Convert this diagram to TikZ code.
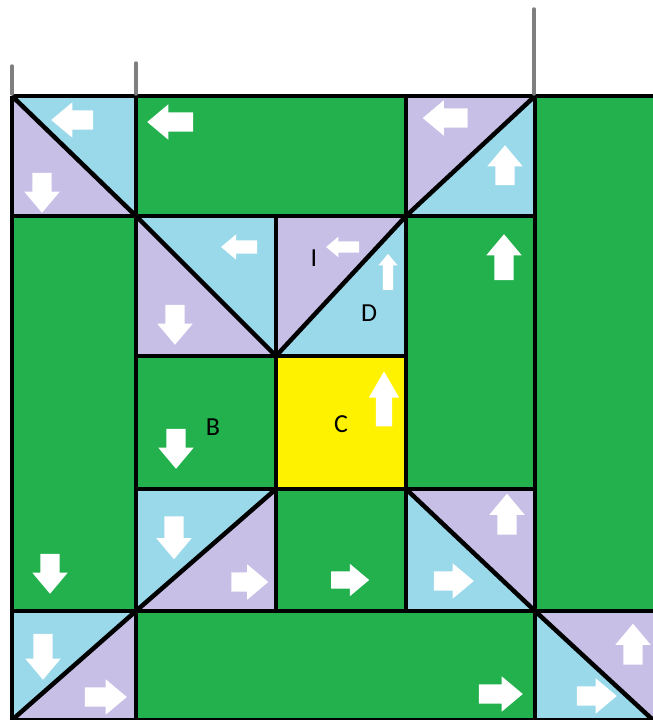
\documentclass[tikz,border=0pt]{standalone}
\usepackage{fontspec}
\setmainfont{Carlito}
\usetikzlibrary{shapes.arrows}
\definecolor{pgreen}{HTML}{22B14C}
\definecolor{pblue}{HTML}{99D9EA}
\definecolor{ppurple}{HTML}{C8BFE7}
\definecolor{pyellow}{HTML}{FFF200}
\definecolor{ptick}{HTML}{7F7F7F}
\begin{document}
\begin{tikzpicture}[x=1pt, y=-1pt,
    gridline/.style={line width=4.5pt, black},
    tickline/.style={line width=3.5pt, ptick, line cap=round},
    wa/.style={single arrow, fill=white, draw=none,
      single arrow head extend=8pt,
      single arrow tip angle=80, single arrow head indent=0pt, minimum height=#1},
    arrL/.style={wa=#1, inner xsep=0pt, inner ysep=9.5pt, shape border rotate=180},
    arrR/.style={wa=#1, inner xsep=0pt, inner ysep=9.5pt, shape border rotate=0},
    arrU/.style={wa=#1, inner ysep=0pt, inner xsep=9.5pt, shape border rotate=90},
    arrD/.style={wa=#1, inner ysep=0pt, inner xsep=9.5pt, shape border rotate=270},
    lbl/.style={font=\fontsize{26}{30}\selectfont, inner sep=0pt}]
  \useasboundingbox (0,0) rectangle (653,720);

  % Green ground and the yellow cell
  \fill[pgreen] (12,96) rectangle (653,720);
  \fill[pyellow] (276,356) rectangle (406,489);

  % Split cells, diagonal from top left to bottom right
  \foreach \xa/\ya/\xb/\yb/\ca/\cb in {12/96/136/216/pblue/ppurple,
      136/216/276/356/pblue/ppurple, 406/489/535/611/ppurple/pblue,
      535/611/653/720/ppurple/pblue}{
    \fill[\ca] (\xa,\ya) -- (\xb,\ya) -- (\xb,\yb) -- cycle;
    \fill[\cb] (\xa,\ya) -- (\xa,\yb) -- (\xb,\yb) -- cycle;
    \draw[gridline] (\xa,\ya) -- (\xb,\yb);
  }
  % Split cells, diagonal from bottom left to top right
  \foreach \xa/\ya/\xb/\yb/\ca/\cb in {406/96/535/216/ppurple/pblue,
      276/216/406/356/ppurple/pblue, 136/489/276/611/pblue/ppurple,
      12/611/136/720/pblue/ppurple}{
    \fill[\ca] (\xa,\ya) -- (\xb,\ya) -- (\xa,\yb) -- cycle;
    \fill[\cb] (\xb,\ya) -- (\xb,\yb) -- (\xa,\yb) -- cycle;
    \draw[gridline] (\xa,\yb) -- (\xb,\ya);
  }

  % Grid lines
  \draw[gridline] (12,96) -- (653,96);
  \draw[gridline] (12,216) -- (535,216);
  \draw[gridline] (136,356) -- (406,356);
  \draw[gridline] (136,489) -- (535,489);
  \draw[gridline] (12,611) -- (653,611);
  \draw[gridline] (12,720) -- (653,720);
  \draw[gridline] (12,96) -- (12,720);
  \draw[gridline] (136,96) -- (136,720);
  \draw[gridline] (276,216) -- (276,611);
  \draw[gridline] (406,96) -- (406,611);
  \draw[gridline] (535,96) -- (535,720);

  % Gray ticks on top
  \draw[tickline] (12,66) -- (12,94);
  \draw[tickline] (136,63) -- (136,94);
  \draw[tickline] (534,9) -- (534,94);

  % Arrows, top row
  \node[arrL=42pt] (a1) at (78,120) {};
  \node[arrD=40pt] (a2) at (42,187) {};
  \node[arrL=46pt] (a3) at (176,122) {};
  \node[arrL=45pt] (a4) at (451,118) {};
  \node[arrU=40pt] (a5) at (505,171) {};
  % second row
  \node[arrL=36pt, inner ysep=6.5pt, single arrow head extend=6pt] (b1) at (243,247) {};
  \node[arrD=40pt] (b2) at (175,319) {};
  \node[arrL=33pt, inner ysep=5.5pt, single arrow head extend=4.5pt] (b3) at (346,247) {};
  \node[arrU=36pt, inner xsep=5pt, single arrow head extend=4.5pt] (b4) at (388,275) {};
  \node[arrU=46pt] (b5) at (504,263) {};
  % third row
  \node[arrD=40pt] (c1) at (176,443) {};
  \node[arrU=55pt, inner xsep=8pt, single arrow head extend=7pt, single arrow tip angle=60] (c2) at (384,406) {};
  \node[arrD=40pt] (c3) at (50,568) {};
  % fourth row
  \node[arrD=43pt] (d1) at (174,532) {};
  \node[arrR=37pt] (d2) at (244,582) {};
  \node[arrR=38pt, inner ysep=8.5pt, single arrow head extend=7.5pt] (d3) at (345,580) {};
  \node[arrU=41pt] (d4) at (507,520) {};
  \node[arrR=40pt] (d5) at (448,581) {};
  % bottom row
  \node[arrD=46pt] (e1) at (43,651) {};
  \node[arrR=42pt] (e2) at (100,697) {};
  \node[arrR=44pt] (e3) at (495,694) {};
  \node[arrU=41pt] (e4) at (633,650) {};
  \node[arrR=40pt] (e5) at (591,696) {};

  % Letters
  \node[lbl] (li) at (314,258) {I};
  \node[lbl] (ld) at (369,313) {D};
  \node[lbl] (lb) at (213,427) {B};
  \node[lbl] (lc) at (341,424) {C};
\end{tikzpicture}
\end{document}
